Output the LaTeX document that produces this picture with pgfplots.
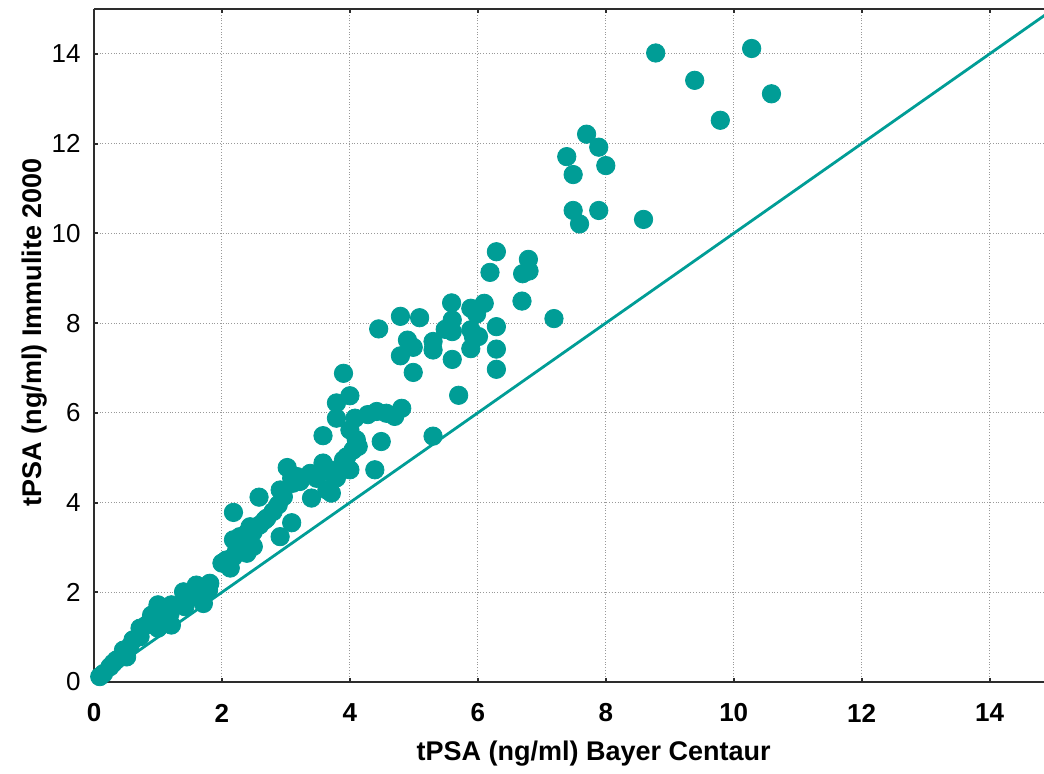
\documentclass[border=0pt]{standalone}
\usepackage{fontspec}
\setmainfont{Liberation Sans}
\usepackage{pgfplots}
\pgfplotsset{compat=1.18}

\definecolor{teal}{RGB}{0,157,150}
\definecolor{spine}{RGB}{45,45,45}

\begin{document}
\begin{tikzpicture}
\begin{axis}[
    scale only axis,
    width=475pt, height=336.5pt,
    xmin=0, xmax=14.85, ymin=0, ymax=15,
    xtick={0,2,...,14}, ytick={0,2,...,14},
    axis x line=box, axis y line=left,
    axis line style={-, line width=1.4pt, color=spine},
    tick align=inside, major tick length=2pt,
    tick style={line width=1pt, color=spine},
    grid=major,
    grid style={densely dotted, line width=0.5pt, color=gray!80},
    /pgf/number format/assume math mode=true,
    xticklabel style={font=\fontsize{13}{15}\selectfont\bfseries, anchor=center, yshift=-15.5pt},
    yticklabel style={font=\fontsize{13}{15}\selectfont, anchor=east, inner sep=0pt, xshift=-6.5pt},
    xlabel={tPSA (ng/ml) Bayer Centaur},
    ylabel={tPSA (ng/ml) Immulite 2000},
    label style={font=\fontsize{13.5}{16}\selectfont\bfseries},
    xlabel style={at={(axis description cs:0.526,0)}, anchor=center, yshift=-36pt},
    ylabel style={at={(axis description cs:0,0.52)}, anchor=center, yshift=29.5pt},
]
\coordinate (O) at (rel axis cs:0,0);

% reference line of identity
\addplot[color=teal, line width=1.4pt] coordinates {(0,0) (15,15)};

\addplot[only marks, mark=*, mark size=4.6pt, color=teal, mark options={fill=teal, draw=teal}]
    coordinates {
    (8.78,14.02) (10.28,14.12) (9.39,13.41) (10.59,13.11) (9.79,12.52)
    (7.70,12.21) (7.89,11.92) (7.39,11.71) (8.00,11.51) (7.49,11.31)
    (7.49,10.51) (7.89,10.51) (7.59,10.21) (8.59,10.31) (7.19,8.10)
    (6.29,9.59) (6.79,9.42) (6.70,9.10) (6.80,9.16) (6.19,9.13)
    (6.69,8.49) (5.59,8.45) (5.89,8.33) (6.10,8.44) (5.98,8.20)
    (4.79,8.15) (5.09,8.12) (4.45,7.87) (5.60,8.07) (5.49,7.86)
    (5.60,7.81) (5.89,7.85) (5.93,7.70) (6.01,7.70) (6.29,7.92)
    (4.90,7.62) (4.99,7.46) (5.30,7.59) (5.30,7.40) (5.89,7.43)
    (6.29,7.42) (4.79,7.27) (5.60,7.19) (4.99,6.90) (6.29,6.97)
    (5.70,6.39) (5.30,5.48) (4.49,5.36)
    (3.90,6.88) (4.00,6.38) (3.79,6.22) (3.79,5.88) (3.58,5.49)
    (4.08,5.88) (4.28,5.96) (4.42,6.03) (4.57,5.99) (4.70,5.92)
    (4.81,6.10) (4.00,5.62) (4.10,5.40) (4.13,5.25) (4.05,5.17)
    (3.95,5.02) (3.90,4.95) (4.39,4.73) (4.00,4.73) (3.58,4.88)
    (3.69,4.73) (3.74,4.62) (3.79,4.55) (3.38,4.65) (3.48,4.54)
    (3.17,4.58) (3.02,4.78) (3.11,4.43) (3.22,4.47) (3.09,4.54)
    (3.64,4.28) (3.71,4.21) (3.40,4.10)
    (2.91,4.28) (2.96,4.13) (2.88,3.95) (2.80,3.80) (2.70,3.65)
    (2.59,3.50) (2.49,3.35) (2.58,4.12) (2.18,3.78) (3.09,3.55)
    (2.91,3.24) (2.44,3.46) (2.39,3.32) (2.28,3.24) (2.18,3.17)
    (2.33,3.09) (2.49,3.02) (2.39,2.87) (2.23,2.94) (2.18,2.79)
    (2.07,2.72) (2.00,2.65) (2.67,3.61) (2.13,2.54)
    (1.81,2.20) (1.60,2.16) (1.40,2.01) (1.71,1.98) (1.79,2.05)
    (1.71,1.75) (1.60,1.90) (1.50,1.94) (1.42,1.68) (1.21,1.72)
    (1.00,1.72) (1.19,1.53) (1.11,1.42) (1.03,1.53) (0.90,1.49)
    (0.93,1.31) (1.14,1.31) (1.21,1.27) (1.00,1.20) (0.82,1.27)
    (0.72,1.20) (0.72,1.01) (0.61,0.94) (0.56,0.79) (0.46,0.71)
    (0.51,0.56) (0.35,0.49) (0.30,0.42) (0.25,0.34) (0.15,0.19)
    (0.09,0.12)
    };
\end{axis}
\pgfresetboundingbox
\path (O) ++(-47pt,-45.5pt) rectangle ++(522pt,386.5pt);
\end{tikzpicture}
\end{document}
